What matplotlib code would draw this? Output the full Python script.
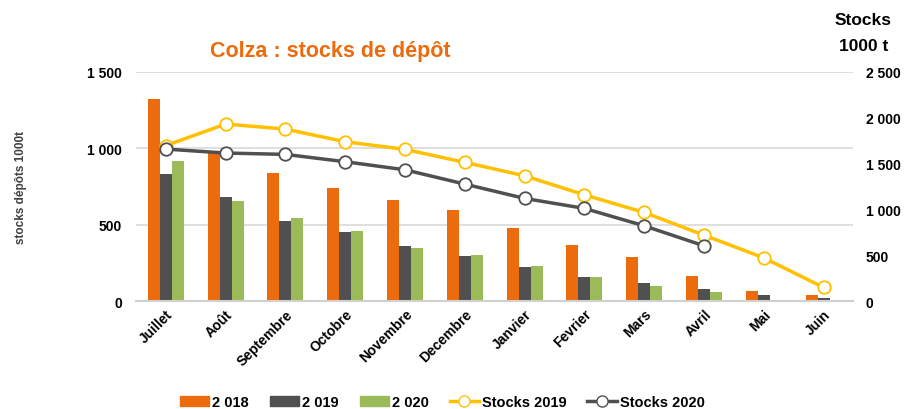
import matplotlib
matplotlib.use("Agg")
import matplotlib.pyplot as plt
import numpy as np
from matplotlib.ticker import FuncFormatter
from matplotlib.lines import Line2D
from matplotlib.patches import Patch

months = ["Juillet", "Août", "Septembre", "Octobre", "Novembre", "Decembre",
          "Janvier", "Fevrier", "Mars", "Avril", "Mai", "Juin"]
dep_2018 = [1323, 970, 838, 740, 661, 598, 478, 367, 290, 162, 64, 39]
dep_2019 = [832, 681, 524, 452, 360, 298, 221, 159, 118, 77, 39, 20]
dep_2020 = [917, 655, 544, 458, 347, 301, 231, 159, 98, 57, np.nan, np.nan]
stocks_2019 = [1697, 1932, 1877, 1739, 1656, 1514, 1368, 1160, 968, 720, 473, 150]
stocks_2020 = [1659, 1616, 1601, 1521, 1433, 1277, 1121, 1012, 822, 604, np.nan, np.nan]

c_orange = "#EC6B0C"
c_gray = "#505050"
c_green = "#9BBB59"
c_yellow = "#FFC000"

plt.rcParams["font.family"] = ["Liberation Sans", "DejaVu Sans"]

fig = plt.figure(figsize=(9.06, 4.10), dpi=100)
ax = fig.add_axes([0.150, 0.263, 0.792, 0.559])
ax2 = ax.twinx()

x = np.arange(len(months))
w = 0.2
ax.bar(x - w, dep_2018, w, color=c_orange, zorder=2)
ax.bar(x, dep_2019, w, color=c_gray, zorder=2)
ax.bar(x + w, dep_2020, w, color=c_green, zorder=2)

ax.set_ylim(0, 1500)
ax.set_xlim(-0.5, len(months) - 0.5)
ax.set_yticks([0, 500, 1000, 1500])
fmt = FuncFormatter(lambda v, p: f"{int(v):,}".replace(",", " "))
ax.yaxis.set_major_formatter(fmt)
ax.grid(axis="y", color="#D9D9D9", linewidth=1.2, zorder=0)
ax.set_axisbelow(True)
for s in ["top", "right", "left"]:
    ax.spines[s].set_visible(False)
ax.spines["bottom"].set_color("#D0D0D0")
ax.spines["bottom"].set_linewidth(1.5)
ax.tick_params(axis="y", length=0, pad=10, labelsize=10)
ax.tick_params(axis="x", length=0, pad=4, labelsize=10)
ax.set_xticks(x)
ax.set_xticklabels(months, rotation=45, ha="right", rotation_mode="anchor", fontweight="bold")
for t in ax.get_yticklabels():
    t.set_fontweight("bold")

ax2.plot(x, stocks_2019, color=c_yellow, lw=2.5, marker="o", ms=9,
         mfc="white", mec=c_yellow, mew=1.3, zorder=3)
ax2.plot(x, stocks_2020, color=c_gray, lw=2.5, marker="o", ms=9,
         mfc="white", mec=c_gray, mew=1.3, zorder=4)
ax2.set_ylim(0, 2500)
ax2.set_yticks([0, 500, 1000, 1500, 2000, 2500])
ax2.yaxis.set_major_formatter(fmt)
ax2.tick_params(axis="y", length=0, pad=9, labelsize=10)
for t in ax2.get_yticklabels():
    t.set_fontweight("bold")
for s in ["top", "right", "left", "bottom"]:
    ax2.spines[s].set_visible(False)

ax.set_ylabel("stocks dépôts 1000t", fontsize=8.5, fontweight="bold", color="#404040", labelpad=43)

fig.text(0.232, 0.86, "Colza : stocks de dépôt", color=c_orange, fontsize=15.5, fontweight="bold")
fig.text(0.953, 0.94, "Stocks", fontsize=12.5, fontweight="bold", ha="center")
fig.text(0.953, 0.875, "1000 t", fontsize=12.5, fontweight="bold", ha="center")

handles = [Patch(color=c_orange), Patch(color=c_gray), Patch(color=c_green),
           Line2D([], [], color=c_yellow, lw=2.5, marker="o", ms=8, mfc="white", mec=c_yellow),
           Line2D([], [], color=c_gray, lw=2.5, marker="o", ms=8, mfc="white", mec=c_gray)]
labels = ["2 018", "2 019", "2 020", "Stocks 2019", "Stocks 2020"]
leg = fig.legend(handles, labels, loc="center", bbox_to_anchor=(0.488, 0.017), ncol=5,
                 frameon=False, handlelength=2.0, handletextpad=0.2, columnspacing=1.45,
                 prop={"weight": "bold", "size": 10.5})

fig.savefig("out.png", dpi=100)
